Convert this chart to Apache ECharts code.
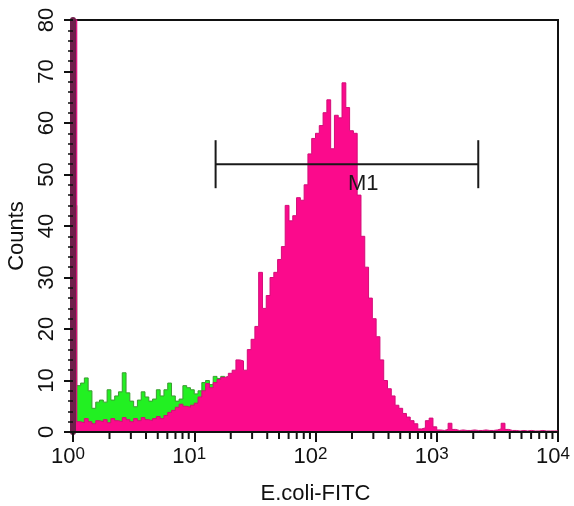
<!DOCTYPE html>
<html>
<head>
<meta charset="utf-8">
<script src="https://cdn.jsdelivr.net/npm/echarts@6/dist/echarts.min.js"></script>
<style>
  html, body { margin: 0; padding: 0; background: #ffffff; }
  #chart { width: 574px; height: 506px; }
</style>
</head>
<body>
<div id="chart"></div>
<script>
// Log-amplified fluorescence histogram: 4 decades, 32 channels per decade.
const channelsPerDecade = 32;
const decadeLabels = [0, 1, 2, 3, 4];

// Stained sample (counts per channel)
const stainedCounts = [
  85, 2.0, 1.8, 2.6, 2.0, 1.6, 2.2, 2.0, 2.4, 1.8, 2.6, 2.2, 2.0, 2.8, 2.4, 2.0,
  2.6, 2.2, 2.8, 2.4, 2.2, 2.6, 3.0, 2.6, 3.2, 3.8, 4.2, 4.8, 5.4, 5.0, 4.8, 5.2,
  5.6, 6.8, 8.0, 9.4, 8.6, 9.6, 10.2, 10.6, 10.8, 11.4, 12.0, 14.0, 13.8, 12.0, 16.0, 18.0,
  20.5, 31.0, 24.0, 26.5, 30.0, 31.0, 33.5, 36.0, 44.0, 41.0, 42.0, 45.5, 45.0, 48.0, 54.0, 57.0,
  58.0, 59.5, 62.0, 64.5, 55.0, 61.5, 61.0, 67.8, 63.0, 58.5, 58.0, 46.0, 38.0, 32.0, 26.0, 22.0,
  18.5, 14.0, 10.0, 8.4, 7.0, 5.2, 4.6, 3.6, 2.9, 2.2, 1.6, 0.6, 0.8, 2.2, 2.7, 1.0,
  0.4, 0.3, 0.5, 1.7, 0.5, 0.3, 0.4, 0.3, 0.3, 0.4, 0.3, 0.3, 0.4, 0.3, 0.3, 0.4,
  0.6, 1.7, 0.5, 0.3, 0.3, 0.2, 0.3, 0.2, 0.3, 0.2, 0.2, 0.3, 0.2, 0.2, 0.2, 0.2
];

// Control sample (counts per channel, low channels only)
const controlCounts = [
  44, 9.0, 9.5, 10.5, 8.0, 4.6, 5.8, 6.2, 5.8, 8.2, 6.2, 7.0, 7.8, 11.5, 7.6, 6.0,
  4.9, 6.2, 7.8, 6.8, 6.0, 6.4, 8.2, 7.0, 8.2, 9.5, 7.0, 6.0, 6.4, 9.0, 8.6, 8.2,
  7.4, 8.0, 9.6, 10.0, 9.2, 10.8, 10.4, 10.8, 9.0, 8.0, 7.0, 6.0, 5.0
];

// Marker region
const markerName = 'M1';
const markerRange = [15, 2200];
const markerLevel = 52;

const FONT = '"Liberation Sans", Arial, sans-serif';

function channelValue(ch) {
  return Math.pow(10, ch / channelsPerDecade);
}

function histogramPoints(counts) {
  const pts = counts.map((c, i) => [channelValue(i), c]);
  pts.push([channelValue(counts.length), counts[counts.length - 1]]);
  return pts;
}

// minor tick positions 2..9 within each decade
const minorTickValues = [];
for (let d = 0; d < 4; d++) {
  for (let m = 2; m <= 9; m++) minorTickValues.push([m * Math.pow(10, d), 0]);
}

const chart = echarts.init(document.getElementById('chart'), null, { renderer: 'canvas' });

const option = {
  animation: false,
  backgroundColor: '#ffffff',
  grid: {
    left: 73, right: 16, top: 20, bottom: 74,
    outerBoundsMode: 'none',
    containLabel: false,
    show: true, borderColor: '#111', borderWidth: 2, backgroundColor: 'transparent'
  },
  xAxis: {
    type: 'log',
    logBase: 10,
    min: 1,
    max: 10000,
    z: 6,
    name: 'E.coli-FITC',
    nameLocation: 'middle',
    nameGap: 51,
    nameTextStyle: { fontFamily: FONT, fontSize: 22, color: '#111' },
    axisLine: { lineStyle: { color: '#111', width: 2 } },
    axisTick: { show: true, length: 10, lineStyle: { color: '#111', width: 2 } },
    splitLine: { show: false },
    minorSplitLine: { show: false },
    axisLabel: {
      margin: 14,
      hideOverlap: false,
      formatter: function (v) {
        const e = Math.round(Math.log10(v));
        return decadeLabels.indexOf(e) >= 0 ? '{b|10}{s|' + e + '}' : '';
      },
      rich: {
        b: { fontFamily: FONT, fontSize: 22, lineHeight: 22, color: '#111', padding: [12, 0, 0, 0], verticalAlign: 'bottom' },
        s: { fontFamily: FONT, fontSize: 17, lineHeight: 17, color: '#111', verticalAlign: 'top', padding: [0, 10, 0, 0] }
      }
    }
  },
  yAxis: {
    type: 'value',
    min: 0,
    max: 80,
    interval: 10,
    z: 6,
    name: 'Counts',
    nameLocation: 'middle',
    nameGap: 41,
    nameRotate: 90,
    nameTextStyle: { fontFamily: FONT, fontSize: 22, color: '#111', padding: [0, 20, 0, 0] },
    axisLine: { lineStyle: { color: '#6e1f4b', width: 6 } },
    axisTick: { show: true, length: 9, lineStyle: { color: '#111', width: 2 } },
    minorTick: { show: true, splitNumber: 5, length: 5, lineStyle: { color: '#111', width: 1.5 } },
    splitLine: { show: false },
    axisLabel: { rotate: 90, margin: 15, fontFamily: FONT, fontSize: 22, color: '#111' }
  },
  series: [
    {
      name: 'control',
      type: 'line',
      step: 'end',
      z: 2,
      showSymbol: false,
      symbol: 'none',
      data: histogramPoints(controlCounts),
      lineStyle: { color: '#3a9c30', width: 1 },
      areaStyle: { color: '#22f022', opacity: 1 }
    },
    {
      name: 'stained',
      type: 'line',
      step: 'end',
      z: 3,
      showSymbol: false,
      symbol: 'none',
      data: histogramPoints(stainedCounts),
      lineStyle: { color: '#d40c78', width: 1 },
      areaStyle: { color: '#fb0a8c', opacity: 1 }
    },
    {
      name: 'marker',
      type: 'custom',
      z: 5,
      silent: true,
      clip: false,
      data: [[markerRange[0], markerRange[1], markerLevel]],
      encode: { x: [0, 1], y: 2 },
      renderItem: function (params, api) {
        const a = api.coord([api.value(0), api.value(2)]);
        const b = api.coord([api.value(1), api.value(2)]);
        const mid = api.coord([Math.sqrt(api.value(0) * api.value(1)), api.value(2)]);
        const stroke = { stroke: '#1a1a1a', lineWidth: 2 };
        return {
          type: 'group',
          children: [
            { type: 'line', shape: { x1: a[0], y1: a[1], x2: b[0], y2: b[1] }, style: stroke },
            { type: 'line', shape: { x1: a[0], y1: a[1] - 24, x2: a[0], y2: a[1] + 24 }, style: stroke },
            { type: 'line', shape: { x1: b[0], y1: b[1] - 24, x2: b[0], y2: b[1] + 24 }, style: stroke },
            {
              type: 'text',
              x: mid[0] + 1, y: mid[1] + 9,
              style: {
                text: markerName, fill: '#1a1a1a', font: '22px ' + FONT,
                textAlign: 'left', textVerticalAlign: 'top'
              }
            }
          ]
        };
      }
    },
    {
      name: 'minorTicks',
      type: 'custom',
      z: 6,
      silent: true,
      clip: false,
      data: minorTickValues,
      encode: { x: 0, y: 1 },
      renderItem: function (params, api) {
        const p = api.coord([api.value(0), 0]);
        return {
          type: 'line',
          shape: { x1: p[0], y1: p[1], x2: p[0], y2: p[1] + 7 },
          style: { stroke: '#111', lineWidth: 2 }
        };
      }
    }
  ]
};

chart.setOption(option);
</script>
</body>
</html>
